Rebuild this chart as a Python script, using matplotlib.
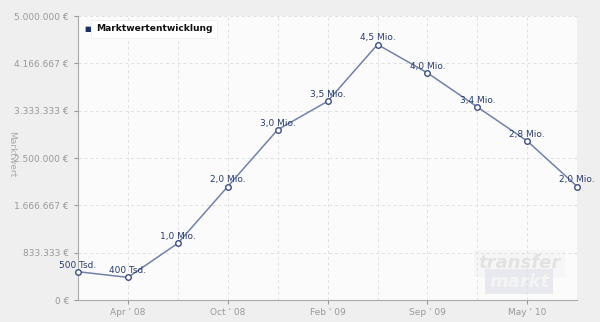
import matplotlib.pyplot as plt
from matplotlib.ticker import FixedLocator

values = [500000, 400000, 1000000, 2000000, 3000000, 3500000,
          4500000, 4000000, 3400000, 2800000, 2000000]
point_labels = ["500 Tsd.", "400 Tsd.", "1,0 Mio.", "2,0 Mio.", "3,0 Mio.", "3,5 Mio.",
                "4,5 Mio.", "4,0 Mio.", "3,4 Mio.", "2,8 Mio.", "2,0 Mio."]
x_tick_pos = [1, 3, 5, 7, 9]
x_tick_labels = ["Apr ' 08", "Oct ' 08", "Feb ' 09", "Sep ' 09", "May ' 10"]
y_ticks = [0, 833333, 1666667, 2500000, 3333333, 4166667, 5000000]
y_tick_labels = ["0 €", "833.333 €", "1.666.667 €", "2.500.000 €",
                 "3.333.333 €", "4.166.667 €", "5.000.000 €"]

fig = plt.figure(figsize=(6, 3.22), dpi=100)
fig.patch.set_facecolor("#efefef")
ax = fig.add_axes([0.13, 0.068, 0.832, 0.882])
ax.set_facecolor("#fbfbfb")

x = list(range(len(values)))
ax.plot(x, values, color="#7281a8", lw=1.1, zorder=3, clip_on=False)
ax.plot(x, values, ls="none", marker="o", ms=4, mfc="white", mec="#3d4f82",
        mew=1.0, zorder=4, clip_on=False)

for xi, v, lab in zip(x, values, point_labels):
    ax.annotate(lab, (xi, v), xytext=(0, 1.5), textcoords="offset points",
                ha="center", va="bottom", fontsize=6.5, color="#2a3d6e", zorder=5)

ax.set_xlim(0, 10)
ax.set_ylim(0, 5000000)
ax.set_yticks(y_ticks)
ax.set_yticklabels(y_tick_labels)
ax.set_xticks(x_tick_pos)
ax.set_xticklabels(x_tick_labels)
ax.xaxis.set_minor_locator(FixedLocator(x))

ax.grid(True, which="both", axis="x", color="#e0e0e0", ls=(0, (3, 3)), lw=0.7)
ax.grid(True, which="major", axis="y", color="#e0e0e0", ls=(0, (3, 3)), lw=0.7)
ax.tick_params(axis="both", which="major", labelsize=6.5, colors="#999999",
               length=3, width=0.8)
ax.tick_params(axis="x", which="minor", length=0)
ax.tick_params(axis="x", pad=3)

for s in ["top", "right"]:
    ax.spines[s].set_visible(False)
for s in ["left", "bottom"]:
    ax.spines[s].set_color("#aaaaaa")

fig.text(0.02, 0.52, "Marktwert", rotation=270, fontsize=6.5, color="#aaaaaa",
         ha="center", va="center")

# legend box
ax.text(0.012, 0.955, "■", transform=ax.transAxes, fontsize=5, color="#1c2f66",
        va="center", ha="left", zorder=6)
ax.text(0.036, 0.955, "Marktwertentwicklung", transform=ax.transAxes, fontsize=6.6,
        fontweight="bold", color="#111111", va="center", ha="left", zorder=6,
        bbox=dict(boxstyle="square,pad=0.5", fc="white", ec="#eeeeee", lw=0.6))

# watermark
ax.text(0.884, 0.13, "transfer", transform=ax.transAxes, fontsize=13,
        fontstyle="italic", fontweight="bold", color="#e2e2e2", ha="center",
        va="center", zorder=1,
        bbox=dict(boxstyle="square,pad=0.25", fc="#f6f6f6", ec="none"))
ax.text(0.884, 0.065, "markt", transform=ax.transAxes, fontsize=13,
        fontstyle="italic", fontweight="bold", color="#f4f4f4", ha="center",
        va="center", zorder=1,
        bbox=dict(boxstyle="square,pad=0.2", fc="#e8e9ee", ec="none"))

fig.savefig("out.png", dpi=100, facecolor=fig.get_facecolor())
